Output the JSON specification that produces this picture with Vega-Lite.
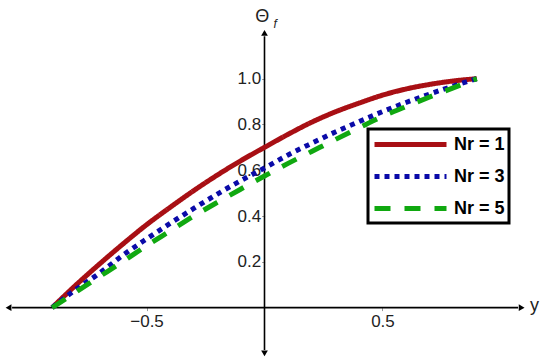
{
  "$schema": "https://vega.github.io/schema/vega-lite/v6.json",
  "width": 519,
  "height": 348,
  "autosize": "none",
  "padding": {"left": 5, "top": 10, "right": 26, "bottom": 4},
  "background": "white",
  "config": {"view": {"stroke": null}, "font": "Liberation Sans", "legend": {"strokeWidth": 3}},
  "datasets": {
    "curves": [
      {"y": -0.9, "theta": 0, "Nr": "Nr = 1"},
      {"y": -0.8, "theta": 0.098, "Nr": "Nr = 1"},
      {"y": -0.7, "theta": 0.19, "Nr": "Nr = 1"},
      {"y": -0.6, "theta": 0.278, "Nr": "Nr = 1"},
      {"y": -0.5, "theta": 0.362, "Nr": "Nr = 1"},
      {"y": -0.4, "theta": 0.438, "Nr": "Nr = 1"},
      {"y": -0.3, "theta": 0.511, "Nr": "Nr = 1"},
      {"y": -0.2, "theta": 0.579, "Nr": "Nr = 1"},
      {"y": -0.1, "theta": 0.642, "Nr": "Nr = 1"},
      {"y": 0.0, "theta": 0.7, "Nr": "Nr = 1"},
      {"y": 0.1, "theta": 0.757, "Nr": "Nr = 1"},
      {"y": 0.2, "theta": 0.81, "Nr": "Nr = 1"},
      {"y": 0.3, "theta": 0.855, "Nr": "Nr = 1"},
      {"y": 0.4, "theta": 0.893, "Nr": "Nr = 1"},
      {"y": 0.5, "theta": 0.928, "Nr": "Nr = 1"},
      {"y": 0.6, "theta": 0.955, "Nr": "Nr = 1"},
      {"y": 0.7, "theta": 0.975, "Nr": "Nr = 1"},
      {"y": 0.8, "theta": 0.99, "Nr": "Nr = 1"},
      {"y": 0.9, "theta": 1.0, "Nr": "Nr = 1"},
      {"y": -0.9, "theta": 0, "Nr": "Nr = 3"},
      {"y": -0.8, "theta": 0.079, "Nr": "Nr = 3"},
      {"y": -0.7, "theta": 0.15, "Nr": "Nr = 3"},
      {"y": -0.6, "theta": 0.229, "Nr": "Nr = 3"},
      {"y": -0.5, "theta": 0.3, "Nr": "Nr = 3"},
      {"y": -0.4, "theta": 0.368, "Nr": "Nr = 3"},
      {"y": -0.3, "theta": 0.433, "Nr": "Nr = 3"},
      {"y": -0.2, "theta": 0.496, "Nr": "Nr = 3"},
      {"y": -0.1, "theta": 0.555, "Nr": "Nr = 3"},
      {"y": 0.0, "theta": 0.61, "Nr": "Nr = 3"},
      {"y": 0.1, "theta": 0.667, "Nr": "Nr = 3"},
      {"y": 0.2, "theta": 0.718, "Nr": "Nr = 3"},
      {"y": 0.3, "theta": 0.767, "Nr": "Nr = 3"},
      {"y": 0.4, "theta": 0.812, "Nr": "Nr = 3"},
      {"y": 0.5, "theta": 0.856, "Nr": "Nr = 3"},
      {"y": 0.6, "theta": 0.896, "Nr": "Nr = 3"},
      {"y": 0.7, "theta": 0.933, "Nr": "Nr = 3"},
      {"y": 0.8, "theta": 0.968, "Nr": "Nr = 3"},
      {"y": 0.9, "theta": 1.0, "Nr": "Nr = 3"},
      {"y": -0.9, "theta": 0, "Nr": "Nr = 5"},
      {"y": -0.8, "theta": 0.068, "Nr": "Nr = 5"},
      {"y": -0.7, "theta": 0.135, "Nr": "Nr = 5"},
      {"y": -0.6, "theta": 0.202, "Nr": "Nr = 5"},
      {"y": -0.5, "theta": 0.27, "Nr": "Nr = 5"},
      {"y": -0.4, "theta": 0.335, "Nr": "Nr = 5"},
      {"y": -0.3, "theta": 0.4, "Nr": "Nr = 5"},
      {"y": -0.2, "theta": 0.46, "Nr": "Nr = 5"},
      {"y": -0.1, "theta": 0.518, "Nr": "Nr = 5"},
      {"y": 0.0, "theta": 0.575, "Nr": "Nr = 5"},
      {"y": 0.1, "theta": 0.63, "Nr": "Nr = 5"},
      {"y": 0.2, "theta": 0.682, "Nr": "Nr = 5"},
      {"y": 0.3, "theta": 0.734, "Nr": "Nr = 5"},
      {"y": 0.4, "theta": 0.785, "Nr": "Nr = 5"},
      {"y": 0.5, "theta": 0.835, "Nr": "Nr = 5"},
      {"y": 0.6, "theta": 0.878, "Nr": "Nr = 5"},
      {"y": 0.7, "theta": 0.92, "Nr": "Nr = 5"},
      {"y": 0.8, "theta": 0.96, "Nr": "Nr = 5"},
      {"y": 0.9, "theta": 1.0, "Nr": "Nr = 5"}
    ],
    "axislines": [
      {"x": -1.07, "x2": 1.075, "y": 0, "y2": 0},
      {"x": 0, "x2": 0, "y": -0.185, "y2": 1.185}
    ],
    "arrows": [
      {"x": -1.085, "y": 0, "dir": "left"},
      {"x": 1.09, "y": 0, "dir": "right"},
      {"x": 0, "y": 1.2, "dir": "up"},
      {"x": 0, "y": -0.2, "dir": "down"}
    ]
  },
  "layer": [
    {
      "data": {"name": "axislines"},
      "mark": {"type": "rule", "color": "black", "strokeWidth": 1.6},
      "encoding": {
        "x": {"field": "x", "type": "quantitative"},
        "x2": {"field": "x2"},
        "y": {"field": "y", "type": "quantitative"},
        "y2": {"field": "y2"}
      }
    },
    {
      "data": {"name": "arrows"},
      "mark": {"type": "point", "filled": true, "color": "black", "size": 45, "opacity": 1},
      "encoding": {
        "x": {"field": "x", "type": "quantitative"},
        "y": {"field": "y", "type": "quantitative"},
        "shape": {"field": "dir", "type": "nominal", "legend": null,
          "scale": {"domain": ["left", "right", "up", "down"], "range": ["triangle-left", "triangle-right", "triangle-up", "triangle-down"]}}
      }
    },
    {
      "data": {"name": "curves"},
      "mark": {"type": "line", "strokeWidth": 5, "interpolate": "monotone"},
      "encoding": {
        "x": {"field": "y", "type": "quantitative",
          "scale": {"domain": [-1.1, 1.1], "nice": false, "zero": false},
          "axis": {"values": [-0.5, 0.5], "format": ".1f", "labelExpr": "replace(datum.label, '-', '\u2212')",
            "offset": -50.4, "domain": false, "grid": false, "tickSize": 3, "tickColor": "#999",
            "labelFontSize": 17, "labelColor": "#222", "labelPadding": 3, "title": null, "labelFont": "Liberation Sans"}},
        "y": {"field": "theta", "type": "quantitative",
          "scale": {"domain": [-0.22, 1.3], "nice": false, "zero": false},
          "axis": {"values": [0.2, 0.4, 0.6, 0.8, 1.0], "format": ".1f",
            "offset": -259.6, "domain": false, "grid": false, "tickSize": 3, "tickColor": "#999",
            "labelFontSize": 17, "labelColor": "#222", "labelPadding": 1, "title": null, "labelFont": "Liberation Sans"}},
        "color": {"field": "Nr", "type": "nominal",
          "scale": {"domain": ["Nr = 1", "Nr = 3", "Nr = 5"], "range": ["#a80f14", "#0a0aa8", "#10a810"]},
          "legend": {"orient": "none", "legendX": 363, "legendY": 119, "title": null, "direction": "vertical",
            "symbolType": "M-1,0H7", "symbolSize": 324, "symbolStrokeWidth": 5,
            "labelFontSize": 18, "labelFontWeight": "bold", "labelColor": "black", "labelFont": "Liberation Sans",
            "labelOffset": 59, "padding": 4, "rowPadding": 10,
            "strokeColor": "black", "fillColor": "white"}},
        "strokeDash": {"field": "Nr", "type": "nominal",
          "scale": {"domain": ["Nr = 1", "Nr = 3", "Nr = 5"], "range": [[1, 0], [5, 5], [16, 14]]},
          "legend": {"orient": "none", "legendX": 363, "legendY": 119, "title": null, "direction": "vertical",
            "symbolType": "M-1,0H7", "symbolSize": 324, "symbolStrokeWidth": 5,
            "labelFontSize": 18, "labelFontWeight": "bold", "labelColor": "black", "labelFont": "Liberation Sans",
            "labelOffset": 59, "padding": 4, "rowPadding": 10,
            "strokeColor": "black", "fillColor": "white"}}
      }
    },
    {
      "data": {"values": [{"x": -0.01, "y": 1.27, "t": "Θ"}, {"x": 1.145, "y": 0.005, "t": "y"}]},
      "mark": {"type": "text", "fontSize": 18, "color": "#222", "font": "Liberation Sans", "baseline": "middle", "align": "center"},
      "encoding": {
        "x": {"field": "x", "type": "quantitative"},
        "y": {"field": "y", "type": "quantitative"},
        "text": {"field": "t"}
      }
    },
    {
      "data": {"values": [{"x": 0.045, "y": 1.24, "t": "f"}]},
      "mark": {"type": "text", "fontSize": 12, "fontStyle": "italic", "color": "#222", "font": "Liberation Sans", "baseline": "middle", "align": "center"},
      "encoding": {
        "x": {"field": "x", "type": "quantitative"},
        "y": {"field": "y", "type": "quantitative"},
        "text": {"field": "t"}
      }
    }
  ]
}
